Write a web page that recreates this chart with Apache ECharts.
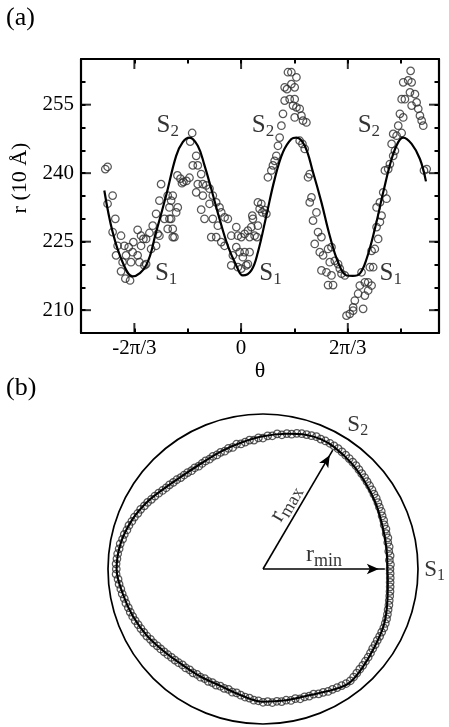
<!DOCTYPE html>
<html><head><meta charset="utf-8">
<script src="https://cdn.jsdelivr.net/npm/echarts@6/dist/echarts.min.js"></script>
<style>html,body{margin:0;padding:0;background:#fff}#c{width:449px;height:727px}</style>
</head><body><div id="c"></div>
<script>
// ---------- Panel (a) data: theta (rad) and r (10 Å) ----------
const thetaA = [
-2.665,-2.620,-2.620,-2.521,-2.468,-2.521,-2.356,-2.423,-2.291,-2.206,
-2.114,-2.454,-2.258,-2.128,-2.325,-2.160,-2.356,-2.271,-2.179,-2.030,
-1.963,-1.917,-1.864,-1.799,-1.734,-1.636,-1.668,-1.603,-1.570,-1.440,
-1.406,-1.504,-1.440,-2.030,-1.996,-1.898,-1.864,-1.963,-1.766,-1.668,
-1.603,-1.373,-1.406,-1.341,-1.341,-1.243,-1.274,-1.373,-1.341,-1.308,
-1.249,-1.190,-1.131,-1.072,-1.013,-1.160,-0.960,-0.999,-0.881,-0.948,
-0.850,-0.783,-0.850,-0.751,-0.684,-0.881,-0.751,-0.619,-0.555,-0.619,
-0.488,-0.783,-0.718,-0.555,-0.423,-0.389,-0.324,-0.260,-0.456,-0.586,
-0.488,-0.389,-0.324,-0.193,-0.094,-0.063,0.004,0.069,0.134,0.201,
0.232,0.167,0.265,-0.094,-0.029,0.069,0.167,-0.161,0.035,0.134,
-0.193,-0.063,0.004,0.102,0.330,0.364,0.417,0.220,0.330,0.311,
0.397,0.462,0.496,0.527,0.594,0.625,0.659,0.692,0.724,0.757,
0.791,0.822,0.855,0.901,0.855,0.920,0.987,1.086,0.987,1.052,
0.954,1.052,1.019,1.086,1.150,1.052,1.184,1.215,1.282,1.150,
1.204,1.249,1.347,1.314,1.381,1.347,1.479,1.412,1.510,1.577,
1.445,1.544,1.609,1.707,1.774,1.740,1.839,1.904,1.937,1.971,
2.035,1.577,1.676,1.774,1.707,1.805,2.069,2.134,2.199,2.199,
2.232,2.297,2.395,2.429,2.330,2.429,2.494,2.561,2.494,2.364,
2.527,2.592,2.561,2.625,2.690,2.659,2.724,2.757,2.659,2.724,
2.789,2.855,2.822,2.887,2.920,2.985,3.019,2.954,3.052,2.985,
3.151,3.084,3.117,3.182,3.151,3.215,3.182,3.280,3.347,3.327,
3.314,3.412,3.347,3.445,3.477,3.510,3.544,3.575,3.642,3.589
];
const rA = [
240.9,241.4,233.3,235.1,230.0,227.1,226.3,224.1,224.1,223.8,
224.9,222.0,222.0,222.7,220.5,220.5,218.5,216.9,216.5,227.6,
226.3,225.6,225.6,226.9,228.5,226.7,231.1,234.0,237.6,235.1,
232.5,230.0,227.8,222.0,220.5,219.8,220.1,224.1,223.4,224.1,
226.3,234.0,230.0,226.0,235.1,232.5,231.4,230.0,227.8,226.0,
239.5,238.8,238.1,238.3,239.0,237.8,248.8,246.9,243.8,241.7,
241.7,239.8,237.6,237.6,237.3,235.8,235.1,236.6,235.1,233.3,
233.6,232.0,230.0,230.0,232.5,231.4,230.3,230.0,228.5,226.0,
226.0,224.9,224.1,226.3,228.2,226.3,226.0,226.7,227.4,228.2,
230.0,226.0,226.3,223.8,222.7,222.7,222.7,222.0,221.6,220.1,
219.8,219.4,219.1,219.8,233.6,232.2,231.4,230.7,228.5,226.0,
233.3,231.9,231.1,239.1,240.6,241.7,242.7,243.8,246.0,247.8,
250.4,253.0,255.9,258.4,258.8,262.1,262.1,261.0,259.5,258.8,
256.2,256.2,254.8,254.4,254.1,252.2,252.6,251.5,251.1,247.1,
246.4,245.3,239.8,239.1,234.7,233.6,231.4,229.6,227.1,226.0,
224.5,222.7,222.0,223.4,223.8,220.5,220.8,220.1,219.1,218.0,
217.6,218.7,218.3,217.6,215.5,215.5,208.8,209.2,209.9,210.6,
212.1,213.6,210.3,213.2,215.4,216.1,216.1,215.4,214.3,218.3,
219.4,219.4,223.0,223.4,225.6,228.2,229.3,230.7,232.5,233.6,
235.8,234.4,240.6,240.9,242.0,243.8,244.9,246.4,248.2,248.6,
248.8,250.4,253.0,252.2,256.2,256.2,259.9,260.3,259.9,262.4,
257.7,257.3,254.8,255.5,254.1,252.6,251.5,250.4,240.9,240.6
];
const fitTheta = [-2.684,-2.521,-2.325,-2.128,-1.864,-1.668,-1.471,-1.274,-1.145,-1.013,
-0.850,-0.718,-0.586,-0.423,-0.260,-0.094,0.035,0.201,0.330,0.496,
0.659,0.822,0.987,1.086,1.249,1.412,1.577,1.740,1.904,2.069,
2.193,2.330,2.462,2.625,2.789,2.954,3.084,3.182,3.347,3.510,3.628];
const fitR = [236.2,227.1,220.5,217.4,219.8,227.1,235.1,243.8,246.8,247.8,
246.0,241.7,236.6,230.0,224.1,219.8,217.6,218.7,222.7,230.7,
238.7,244.6,247.5,247.8,246.0,240.2,233.6,226.3,220.5,217.6,
217.5,218.0,221.2,227.8,235.8,243.1,246.8,247.8,246.4,243.1,238.2];

// axis ranges / ticks of panel (a)
const X_MIN = -Math.PI, X_MAX = 3.884, X_STEP = Math.PI / 3;
const xTickK = [-2, -1, 0, 1, 2, 3];              // tick at k·π/3
const xMajorK = [-2, 0, 2];
const xMajorLabels = ['-2π/3', '0', '2π/3'];
const Y_MIN = 205, Y_MAX = 265, Y_STEP = 5;
const yTicks = [210, 215, 220, 225, 230, 235, 240, 245, 250, 255, 260];
const yMajor = [210, 225, 240, 255];

// S labels in panel (a)
const sLabTheta = [-1.440, 0.429, 2.507, -1.471, 0.576, 2.936];
const sLabR = [250.4, 250.4, 250.4, 218.1, 218.1, 218.1];
const sLabSub = ['2', '2', '2', '1', '1', '1'];

// ---------- Panel (b) data: polar (angle deg, r) ----------
const curveAngB = [0,10,20,30,40,50,60,66,72,80,90,100,110,120,130,140,150,160,170,180,190,200,210,220,230,240,250,260,270,280,290,300,307,315,325,335,345,355,360];
const curveRB = [217.5,219,222,228,234,241,247,248.5,246.5,240,232,224,218,214,215,222,234,245,253,256,249,242,234,225,219,217.5,217.5,224,232,233,235,244,249.8,245,238,233,225,219,217.5];

const angB = [
0,2,4,6,8,10,12,14,16,18, 20,22,24,26,28,30,32,34,36,38,
40,42,44,46,48,50,52,54,56,58, 60,62,64,66,68,70,72,74,76,78,
80,82,84,86,88,90,92,94,96,98, 100,102,104,106,108,110,112,114,116,118,
120,122,124,126,128,130,132,134,136,138, 140,142,144,146,148,150,152,154,156,158,
160,162,164,166,168,170,172,174,176,178, 180,182,184,186,188,190,192,194,196,198,
200,202,204,206,208,210,212,214,216,218, 220,222,224,226,228,230,232,234,236,238,
240,242,244,246,248,250,252,254,256,258, 260,262,264,266,268,270,272,274,276,278,
280,282,284,286,288,290,292,294,296,298, 300,302,304,306,308,310,312,314,316,318,
320,322,324,326,328,330,332,334,336,338, 340,342,344,346,348,350,352,354,356,358
];
const radB = [
222,223,221.5,223.5,222,224,223,225,224,226,
225.5,227.5,228,230,230.5,232,233.5,234,235.5,236.5,
237.5,239,240,241.5,243,244,245,246,247,248,
248.5,249,249,248.5,249.5,248,247,246,244.5,241,
240.5,237,237.5,233.5,233,229,229.5,226,226.5,224,
222,223,219,219.5,216.5,217,215,215.5,213.5,214,
213,212,213.5,212.5,214,214.5,215,217,218,220,
221,223,225.5,228,230,233,235,238,239.5,242.5,
244,246.5,247.5,250,251,253.5,254,255.5,256,257,
256.5,257,254,253,251,250,248,247,245,244,
242.5,241,239,237.5,236,234.5,232,231,228.5,227,
225.5,224,222.5,221.5,220.5,219,219.5,218,219,217.5,
218.5,217,218.5,217.5,219,218,219.5,219,222,221.5,
224,226,227,230,230.5,233,232,234,232.5,234,
233,235,233.5,236,235,236.5,236,239,240,242.5,
243,244.5,246,247.5,248,246.5,245,243.5,242.5,241,
240,238.5,237,236.5,235.5,235.5,235,235,234,233,
231.5,230,229,227.5,226.5,225.5,224.5,223.5,223,222.5
];
const outerR = 271;          // radius of the reference circle
const arrowR = [213, 241];   // r_min, r_max arrow tips
const arrowAng = [0, 59.6];
const labBR = [301, 300, 121.5, 109.3];
const labBAng = [56.6, 359.7, 71.6, 12.9];

// ---------- chart ----------
const FONT = 'Liberation Serif';
const MAJ = 10, MIN_T = 4.5;

function frameAx(pos, min, max, step, label) {
  return {
    type: 'value', position: pos, min, max, interval: step,
    axisLine: {show: true, onZero: false, lineStyle: {color: '#000', width: 2.2}},
    axisTick: {show: true, inside: true, length: MIN_T, lineStyle: {color: '#000', width: 2}},
    axisLabel: label || {show: false},
    splitLine: {show: false}
  };
}
const xLab = {show: true, margin: 5, fontFamily: FONT, fontSize: 21, color: '#000',
  formatter: v => { const k = Math.round(v / X_STEP); const i = xMajorK.indexOf(k);
    return (Math.abs(v - k * X_STEP) < 1e-6 && i >= 0) ? xMajorLabels[i] : ''; }};
const yLab = {show: true, margin: 7, fontFamily: FONT, fontSize: 21, color: '#000',
  formatter: v => yMajor.indexOf(v) >= 0 ? String(v) : ''};

const xAxes = [
  Object.assign(frameAx('bottom', X_MIN, X_MAX, X_STEP, xLab),
    {name: 'θ', nameLocation: 'middle', nameGap: 22, nameTextStyle: {fontFamily: FONT, fontSize: 22, color: '#000'}}),
  frameAx('top', X_MIN, X_MAX, X_STEP)
];
const yAxes = [
  Object.assign(frameAx('left', Y_MIN, Y_MAX, Y_STEP, yLab),
    {name: 'r (10 Å)', nameLocation: 'middle', nameGap: 50, nameTextStyle: {fontFamily: FONT, fontSize: 22, color: '#000', padding: [0,0,0,36]}}),
  frameAx('right', Y_MIN, Y_MAX, Y_STEP)
];

// longer (major) ticks drawn as thin rect symbols sitting on the frame, pointing inward
const tickData = [];
yMajor.forEach(v => {
  tickData.push({value: [X_MIN, v], symbolSize: [MAJ, 2], symbolOffset: [MAJ / 2, 0]});
  tickData.push({value: [X_MAX, v], symbolSize: [MAJ, 2], symbolOffset: [-MAJ / 2, 0]});
});
xMajorK.forEach(k => {
  tickData.push({value: [k * X_STEP, Y_MIN], symbolSize: [2, MAJ], symbolOffset: [0, -MAJ / 2]});
  tickData.push({value: [k * X_STEP, Y_MAX], symbolSize: [2, MAJ], symbolOffset: [0, MAJ / 2]});
});

const markerStyle = {color: 'rgba(0,0,0,0)', borderColor: '#2e2e2e', borderWidth: 1.25};

const chart = echarts.init(document.getElementById('c'), null, {renderer: 'canvas'});
chart.setOption({
  animation: false,
  backgroundColor: '#fff',
  title: [
    {text: '(a)', left: 6, top: 5, padding: 0, textStyle: {fontFamily: FONT, fontSize: 26, fontWeight: 'normal', color: '#000'}},
    {text: '(b)', left: 6, top: 375, padding: 0, textStyle: {fontFamily: FONT, fontSize: 26, fontWeight: 'normal', color: '#000'}}
  ],
  grid: [{left: 81, top: 59, width: 358, height: 274, outerBoundsMode: 'none', containLabel: false}],
  xAxis: xAxes,
  yAxis: yAxes,
  polar: {center: [263, 569], radius: 155},
  angleAxis: {type: 'value', min: 0, max: 360, startAngle: 0, clockwise: false,
    axisLine: {show: true, lineStyle: {color: '#000', width: 1.7}}, axisTick: {show: false}, axisLabel: {show: false}, splitLine: {show: false}},
  radiusAxis: {type: 'value', min: 0, max: outerR, axisLine: {show: false}, axisTick: {show: false}, axisLabel: {show: false}, splitLine: {show: false}},
  series: [
    {type: 'scatter', xAxisIndex: 0, yAxisIndex: 0, symbol: 'circle', symbolSize: 7.5,
     itemStyle: markerStyle, data: thetaA.map((t, i) => [t, rA[i]])},
    {type: 'line', xAxisIndex: 0, yAxisIndex: 0, showSymbol: false, smooth: 0.4,
     lineStyle: {color: '#000', width: 2.2}, data: fitTheta.map((t, i) => [t, fitR[i]])},
    {type: 'scatter', xAxisIndex: 0, yAxisIndex: 0, symbolSize: 0, clip: false,
     label: {show: true, position: 'inside', color: '#000',
       rich: {s: {fontFamily: FONT, fontSize: 25, color: '#000'}, b: {fontFamily: FONT, fontSize: 17, color: '#000', padding: [12,0,0,0]}}},
     data: sLabTheta.map((t, i) => ({value: [t, sLabR[i]], label: {formatter: '{s|S}{b|' + sLabSub[i] + '}'}}))},
    {type: 'scatter', xAxisIndex: 0, yAxisIndex: 0, symbol: 'rect', clip: false, z: 10,
     itemStyle: {color: '#000'}, data: tickData},
    // panel (b)
    {type: 'scatter', coordinateSystem: 'polar', symbol: 'circle', symbolSize: 7.5,
     itemStyle: markerStyle, data: angB.map((a, i) => [radB[i], a])},
    {type: 'line', coordinateSystem: 'polar', showSymbol: false, smooth: 0.35,
     lineStyle: {color: '#000', width: 2.1}, data: curveAngB.map((a, i) => [curveRB[i], a])},
    ...arrowR.map((r, i) => ({
      type: 'line', coordinateSystem: 'polar', lineStyle: {color: '#000', width: 1.6},
      itemStyle: {color: '#000'},
      data: [{value: [0, arrowAng[i]], symbol: 'none'},
             {value: [r, arrowAng[i]], symbol: 'arrow', symbolSize: [8, 12], symbolRotate: arrowAng[i] - 90,
              symbolOffset: [-6 * Math.cos(arrowAng[i] * Math.PI / 180), 6 * Math.sin(arrowAng[i] * Math.PI / 180)]}]
    })),
    {type: 'scatter', coordinateSystem: 'polar', symbolSize: 0, clip: false,
     label: {show: true, position: 'inside', color: '#000',
       rich: {s: {fontFamily: FONT, fontSize: 23, color: '#000'}, b: {fontFamily: FONT, fontSize: 16, color: '#000', padding: [11,0,0,0]},
              r: {fontFamily: FONT, fontSize: 24, color: '#000'}, m: {fontFamily: FONT, fontSize: 18, color: '#000', padding: [12,0,0,0]}}},
     data: [
       {value: [labBR[0], labBAng[0]], label: {formatter: '{s|S}{b|2}'}},
       {value: [labBR[1], labBAng[1]], label: {formatter: '{s|S}{b|1}'}},
       {value: [labBR[2], labBAng[2]], label: {formatter: '{r|r}{m|max}', rotate: 60}},
       {value: [labBR[3], labBAng[3]], label: {formatter: '{r|r}{m|min}'}}
     ]}
  ]
});
</script></body></html>
